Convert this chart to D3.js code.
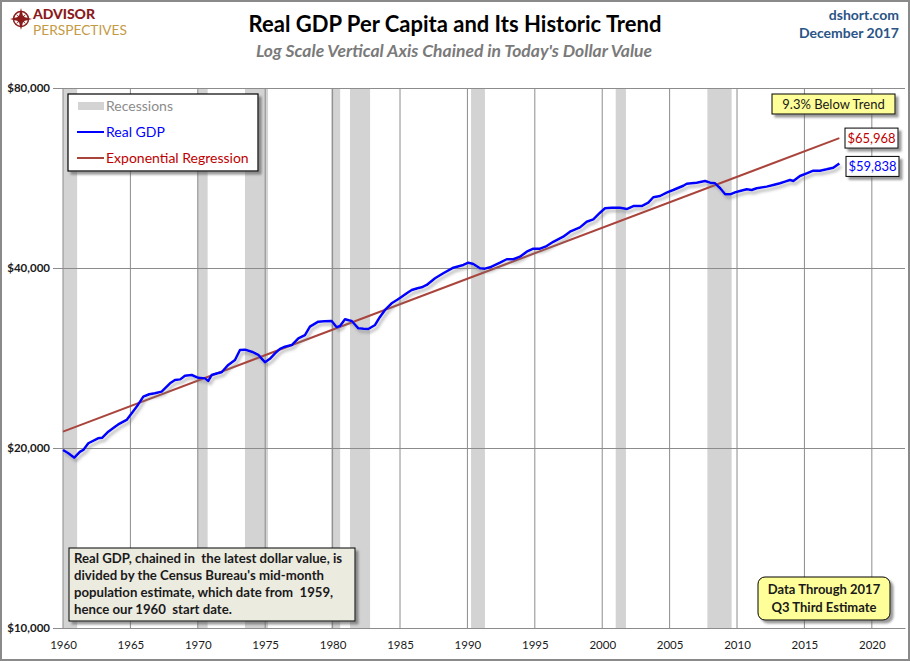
<!DOCTYPE html>
<html>
<head>
<meta charset="utf-8">
<script src="https://cdn.jsdelivr.net/npm/d3@7"></script>
<style>
    body { margin: 0; background: #fff; }
    text { font-family: Lato, "Open Sans", sans-serif; }
</style>
</head>
<body>
<div id="showBox"></div>
<script>
// values
const gdpYears = [1960.0, 1960.4, 1960.84, 1961.25, 1961.51, 1961.88, 1962.6, 1962.9, 1963.36, 1963.86,
    1964.1, 1964.72, 1965.1, 1965.5, 1965.96, 1966.4, 1966.82, 1967.32, 1967.94, 1968.31,
    1968.7, 1969.05, 1969.55, 1970.04, 1970.53, 1970.78, 1971.03, 1971.4, 1971.77, 1972.26,
    1972.76, 1973.13, 1973.5, 1974.0, 1974.49, 1974.99, 1975.35, 1975.73, 1976.1, 1976.47,
    1976.97, 1977.46, 1977.95, 1978.32, 1978.94, 1979.4, 1979.93, 1980.3, 1980.55, 1980.92,
    1981.2, 1981.42, 1981.91, 1982.3, 1982.65, 1983.15, 1983.5, 1983.89, 1984.38, 1984.8,
    1985.13, 1985.5, 1985.87, 1986.3, 1986.61, 1986.98, 1987.6, 1988.21, 1988.96, 1989.7,
    1990.07, 1990.44, 1990.93, 1991.3, 1991.68, 1992.42, 1992.92, 1993.41, 1993.9, 1994.4,
    1994.89, 1995.39, 1995.88, 1996.37, 1997.11, 1997.61, 1998.35, 1998.85, 1999.34, 1999.84,
    2000.21, 2000.7, 2001.32, 2001.82, 2002.31, 2002.93, 2003.42, 2003.79, 2004.29, 2004.78,
    2005.27, 2006.02, 2006.27, 2007.01, 2007.63, 2008.0, 2008.37, 2008.75, 2009.12, 2009.5,
    2009.85, 2010.22, 2010.72, 2011.09, 2011.46, 2012.2, 2012.69, 2013.19, 2013.56, 2013.93,
    2014.18, 2014.67, 2015.17, 2015.66, 2016.16, 2016.65, 2017.14, 2017.59]
const gdpValues = [19850, 19600, 19270, 19700, 19850, 20370, 20760, 20800, 21300, 21700,
    21900, 22280, 22860, 23500, 24370, 24600, 24690, 24850, 25660, 25990,
    26050, 26420, 26490, 26210, 26150, 25890, 26490, 26650, 26770, 27540,
    28070, 29170, 29210, 28980, 28620, 27820, 28200, 28800, 29300, 29540,
    29730, 30510, 30900, 31910, 32530, 32580, 32620, 31840, 31990, 32830,
    32700, 32620, 31710, 31650, 31630, 32120, 33100, 34030, 34920, 35400,
    35820, 36300, 36750, 37000, 37130, 37470, 38450, 39200, 40050, 40470,
    40820, 40620, 39960, 39900, 40110, 40820, 41370, 41370, 41780, 42600,
    43090, 43090, 43530, 44250, 45120, 46000, 46780, 47800, 48250, 49490,
    50340, 50460, 50460, 50200, 50780, 50780, 51440, 52530, 52780, 53470,
    54010, 54910, 55340, 55560, 55910, 55560, 55430, 54380, 53130, 53130,
    53530, 53810, 54160, 54010, 54380, 54720, 55070, 55430, 55780, 56140,
    55920, 57010, 57600, 58190, 58190, 58490, 58860, 59838]

const trendYears = [1960.0, 2017.59]
const trendValues = [21300, 65968]

const recessionStart = [1960.0, 1969.99, 1973.5, 1979.88, 1981.29, 1990.27, 2001.0, 2007.8]
const recessionEnd = [1961.05, 1970.73, 1975.21, 1980.56, 1982.78, 1991.3, 2001.76, 2009.6]

const xTickYears = [1960, 1965, 1970, 1975, 1980, 1985, 1990, 1995, 2000, 2005, 2010, 2015, 2020]
const yTickValues = [10000, 20000, 40000, 80000]

const noteLines = ["Real GDP, chained in  the latest dollar value, is",
    "divided by the Census Bureau's mid-month",
    "population estimate, which date from  1959,",
    "hence our 1960  start date."]

const W = 910, H = 661
const svg = d3.select("#showBox").append("svg").attr("width", W).attr("height", H)

const defs = svg.append("defs")
defs.append("filter").attr("id", "lineShadow").attr("x", "-5%").attr("y", "-5%").attr("width", "110%").attr("height", "120%")
    .append("feDropShadow").attr("dx", 2).attr("dy", 3).attr("stdDeviation", 1.5)
    .attr("flood-color", "#777").attr("flood-opacity", 0.55)
defs.append("filter").attr("id", "boxShadow").attr("x", "-10%").attr("y", "-10%").attr("width", "130%").attr("height", "140%")
    .append("feDropShadow").attr("dx", 3).attr("dy", 3).attr("stdDeviation", 1.2)
    .attr("flood-color", "#555").attr("flood-opacity", 0.6)

// outer frame
svg.append("rect").attr("x", 1).attr("y", 1).attr("width", W - 2).attr("height", H - 2)
    .attr("fill", "#fff").attr("stroke", "#8a8a8a").attr("stroke-width", 2)

const x = d3.scaleLinear().domain([1959.63, 2022.46]).range([58, 905])
const y = d3.scaleLog().base(2).domain([10000, 80000]).range([628, 88])

// recessions
svg.append("g").selectAll("rect")
    .data(recessionStart.map((s, i) => [s, recessionEnd[i]]))
    .join("rect")
    .attr("x", d => x(d[0]))
    .attr("width", d => x(d[1]) - x(d[0]))
    .attr("y", y(80000))
    .attr("height", y(10000) - y(80000))
    .attr("fill", "#d3d3d3")

// vertical grid
svg.append("g").selectAll("line")
    .data(xTickYears)
    .join("line")
    .attr("x1", d => x(d)).attr("x2", d => x(d))
    .attr("y1", y(80000)).attr("y2", y(10000))
    .attr("stroke", "#8c8c8c").attr("stroke-width", 1)

// horizontal grid + y axis
const yAxis = d3.axisLeft(y).tickValues(yTickValues).tickFormat(d => "$" + d3.format(",")(d))
    .tickSize(-(905 - 58)).tickPadding(9)
const yg = svg.append("g").attr("transform", "translate(58,0)").call(yAxis)
yg.select(".domain").remove()
yg.selectAll(".tick line").attr("stroke", "#8c8c8c").attr("x1", -5)
yg.selectAll(".tick text").attr("font-family", "Lato, sans-serif").attr("font-size", 11.5)
    .attr("font-weight", "bold").attr("fill", "#1a1a1a").attr("x", -8)

// x axis
const xAxis = d3.axisBottom(x).tickValues(xTickYears).tickFormat(d3.format("d")).tickSize(0).tickPadding(13)
const xg = svg.append("g").attr("transform", `translate(0,${y(10000)})`).call(xAxis)
xg.select(".domain").attr("stroke", "#8c8c8c")
xg.selectAll(".tick text").attr("font-family", "Lato, sans-serif").attr("font-size", 11.5).attr("fill", "#1a1a1a")

// regression line
const trendData = trendYears.map((t, i) => [t, trendValues[i]])
const line = d3.line().x(d => x(d[0])).y(d => y(d[1]))
svg.append("path").datum(trendData).attr("d", line)
    .attr("fill", "none").attr("stroke", "#a9443c").attr("stroke-width", 2)

// real gdp line
const gdpData = gdpYears.map((t, i) => [t, gdpValues[i]])
svg.append("path").datum(gdpData).attr("d", line)
    .attr("fill", "none").attr("stroke", "#0000ff").attr("stroke-width", 2.5)
    .attr("stroke-linejoin", "round").attr("filter", "url(#lineShadow)")

// legend
const lg = svg.append("g")
lg.append("rect").attr("x", 68).attr("y", 94).attr("width", 190).attr("height", 77)
    .attr("fill", "#fff").attr("stroke", "#000").attr("stroke-width", 1.2).attr("filter", "url(#boxShadow)")
lg.append("rect").attr("x", 78).attr("y", 102).attr("width", 26).attr("height", 8).attr("fill", "#d3d3d3")
lg.append("text").attr("x", 106).attr("y", 111).text("Recessions")
    .attr("font-size", 14).attr("fill", "#8c8c8c")
lg.append("line").attr("x1", 77).attr("x2", 104).attr("y1", 132).attr("y2", 132)
    .attr("stroke", "#0000ff").attr("stroke-width", 2)
lg.append("text").attr("x", 106).attr("y", 137).text("Real GDP")
    .attr("font-size", 14).attr("fill", "#0000ff")
lg.append("line").attr("x1", 77).attr("x2", 104).attr("y1", 158).attr("y2", 158)
    .attr("stroke", "#a9443c").attr("stroke-width", 2)
lg.append("text").attr("x", 106).attr("y", 163).text("Exponential Regression")
    .attr("font-size", 14).attr("fill", "#c00000")

// end value labels
function tagBox(x0, y0, w, h, fill, rx) {
    svg.append("rect").attr("x", x0).attr("y", y0).attr("width", w).attr("height", h)
        .attr("rx", rx || 0).attr("fill", fill).attr("stroke", "#000").attr("stroke-width", 1)
        .attr("filter", "url(#boxShadow)")
}
const lastTrend = trendValues[trendValues.length - 1]
const lastGdp = gdpValues[gdpValues.length - 1]
tagBox(845, y(lastTrend) - 10, 53, 20, "#fff")
svg.append("text").attr("x", 871.5).attr("y", y(lastTrend) + 5).attr("text-anchor", "middle")
    .attr("font-size", 13).attr("fill", "#c00000").text("$" + d3.format(",")(lastTrend))
tagBox(846, y(lastGdp) - 7, 53, 20, "#fff")
svg.append("text").attr("x", 872.5).attr("y", y(lastGdp) + 8).attr("text-anchor", "middle")
    .attr("font-size", 13).attr("fill", "#0000ff").text("$" + d3.format(",")(lastGdp))

const pctBelow = (1 - lastGdp / lastTrend) * 100
tagBox(772, 94, 123, 20, "#ffff99")
svg.append("text").attr("x", 833.5).attr("y", 109).attr("text-anchor", "middle")
    .attr("font-size", 13).attr("fill", "#1a1a1a").text(pctBelow.toFixed(1) + "% Below Trend")

// data-through box
tagBox(758, 577, 132, 43, "#ffff99", 7)
svg.append("text").attr("x", 824).attr("y", 594).attr("text-anchor", "middle")
    .attr("font-size", 13).attr("font-weight", "bold").attr("fill", "#1a1a1a").text("Data Through 2017")
svg.append("text").attr("x", 824).attr("y", 612).attr("text-anchor", "middle")
    .attr("font-size", 13).attr("font-weight", "bold").attr("fill", "#1a1a1a").text("Q3 Third Estimate")

// note box
tagBox(69, 548, 286, 73, "#ecebe0")
svg.append("g").selectAll("text").data(noteLines).join("text")
    .attr("x", 74).attr("y", (d, i) => 563 + i * 17)
    .attr("font-size", 13.2).attr("font-weight", "bold").attr("fill", "#1a1a1a")
    .style("white-space", "pre")
    .text(d => d)

// titles
svg.append("text").attr("x", 455).attr("y", 32).attr("text-anchor", "middle")
    .attr("font-size", 22).attr("font-weight", "bold").attr("fill", "#000")
    .text("Real GDP Per Capita and Its Historic Trend")
svg.append("text").attr("x", 454).attr("y", 57).attr("text-anchor", "middle")
    .attr("font-size", 17.5).attr("font-style", "italic").attr("font-weight", "bold").attr("fill", "#7a7a7a")
    .text("Log Scale Vertical Axis Chained in Today's Dollar Value")
svg.append("text").attr("x", 899).attr("y", 20).attr("text-anchor", "end")
    .attr("font-size", 14).attr("font-weight", "bold").attr("fill", "#2a5485").text("dshort.com")
svg.append("text").attr("x", 899).attr("y", 38).attr("text-anchor", "end")
    .attr("font-size", 14).attr("font-weight", "bold").attr("fill", "#2a5485").text("December 2017")

// logo
const logo = svg.append("g").attr("transform", "translate(21,19)")
logo.append("circle").attr("r", 7.5).attr("fill", "none").attr("stroke", "#8b1a1a").attr("stroke-width", 1.5)
logo.append("path").attr("d", "M0,-11 L2.2,-2.2 L11,0 L2.2,2.2 L0,11 L-2.2,2.2 L-11,0 L-2.2,-2.2 Z")
    .attr("fill", "#8b1a1a")
logo.append("path").attr("d", "M-5,-5 L0,-1.5 L5,-5 L1.5,0 L5,5 L0,1.5 L-5,5 L-1.5,0 Z")
    .attr("fill", "#8b1a1a")
svg.append("text").attr("x", 33).attr("y", 19).attr("font-size", 14).attr("font-weight", "900")
    .attr("fill", "#8b1a1a").attr("textLength", 62).text("ADVISOR")
svg.append("text").attr("x", 33).attr("y", 34.5).attr("font-size", 12.5).attr("font-weight", "normal")
    .attr("fill", "#c49a45").attr("textLength", 94).attr("lengthAdjust", "spacingAndGlyphs").text("PERSPECTIVES")
</script>
</body>
</html>
